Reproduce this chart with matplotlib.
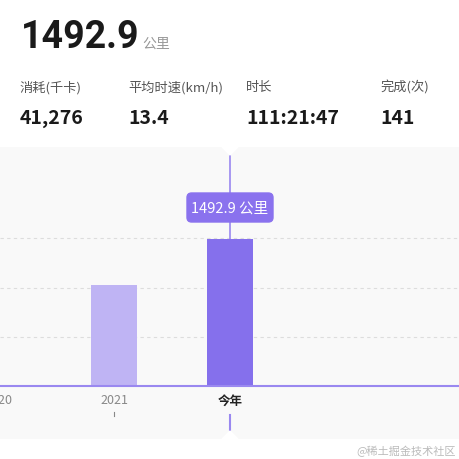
import matplotlib
matplotlib.use("Agg")
import matplotlib.pyplot as plt
from matplotlib.patches import FancyBboxPatch, Polygon

plt.rcParams['font.family'] = ['Noto Sans CJK SC', 'DejaVu Sans']

categories = ['2020', '2021', '今年']
values = [0, 1026, 1492.9]
bar_colors = ['#bfb4f4', '#bfb4f4', '#8570ec']
stat_labels = ['消耗(千卡)', '平均时速(km/h)', '时长', '完成(次)']
stat_values = ['41,276', '13.4', '111:21:47', '141']
stat_x = [20, 128, 246, 380]
total = '1492.9'
W = H = 460
fig = plt.figure(figsize=(4.6, 4.6), dpi=100)
fig.patch.set_facecolor('white')

def fx(px): return px / W
def fy(py): return 1 - py / H

# header
fig.text(fx(21), fy(37), total, fontsize=27, fontweight='bold', color='#1a1a1a', va='center', ha='left',
         family=['Roboto', 'DejaVu Sans'])
fig.text(fx(142), fy(44), '公里', fontsize=10, color='#999999', va='center')
for x, l, v in zip(stat_x, stat_labels, stat_values):
    fig.text(fx(x), fy(88), l, fontsize=9.5, color='#555555', va='center')
    fig.text(fx(x), fy(118), v, fontsize=14, fontweight='bold', color='#1a1a1a', va='center')

# chart axes
top, bot = 148, 440
ax = fig.add_axes([0, fy(bot), 1, (bot - top) / H])
ax.set_facecolor('#f9f9f9')
pxu = 116.0
ax.set_xlim((0 + 2) / pxu, (460 + 2) / pxu)
base = 387
s = 1492.9 / 147
ax.set_ylim(-(bot - base) * s, (base - top) * s)
for sp in ax.spines.values():
    sp.set_visible(False)
ax.set_xticks([]); ax.set_yticks([])
for g in [500, 1000, 1500]:
    ax.axhline(g, color='#dddddd', lw=0.8, ls=(0, (3, 3)), zorder=1)
xs = list(range(len(categories)))
ax.bar(xs, values, width=46 / pxu, color=bar_colors, zorder=3)
ax.axhline(0, color='#9a88f0', lw=1.5, zorder=4)
for i, c in enumerate(categories):
    last = i == len(categories) - 1
    ax.text(i, -14 * s, c, ha='center', va='center', fontsize=9,
            color='#222222' if last else '#888888', fontweight='bold' if last else 'normal')
ax.plot([1, 1], [-26 * s, -30 * s], color='#888888', lw=0.8)
# cursor line
ax.plot([2, 2], [values[2], 231 * s], color='#9a88f0', lw=1.2, zorder=2)
ax.plot([2, 2], [-29 * s, -44 * s], color='#9a88f0', lw=1.5, zorder=2)
# notches
for yy, d in [(base - top, -1), (-(bot - base), 1)]:
    ax.add_patch(Polygon([(2 - 8 / pxu, yy * s), (2 + 8 / pxu, yy * s), (2, (yy + d * 8) * s)],
                         closed=True, color='white', zorder=5, clip_on=False))
# tooltip
ax.add_patch(FancyBboxPatch((2 - 43 / pxu, (base - 223) * s), 86 / pxu, 29 * s,
                            boxstyle='round,pad=0,rounding_size=0.04', mutation_aspect=s * pxu,
                            color='#8a72ee', zorder=6))
ax.text(2, (base - 209) * s, '1492.9 公里', ha='center', va='center', color='white', fontsize=10.5, zorder=7)

fig.text(fx(456), fy(451), '@稀土掘金技术社区', ha='right', va='center', fontsize=8, color='#bbbbbb')
fig.savefig('out.png', dpi=100)
